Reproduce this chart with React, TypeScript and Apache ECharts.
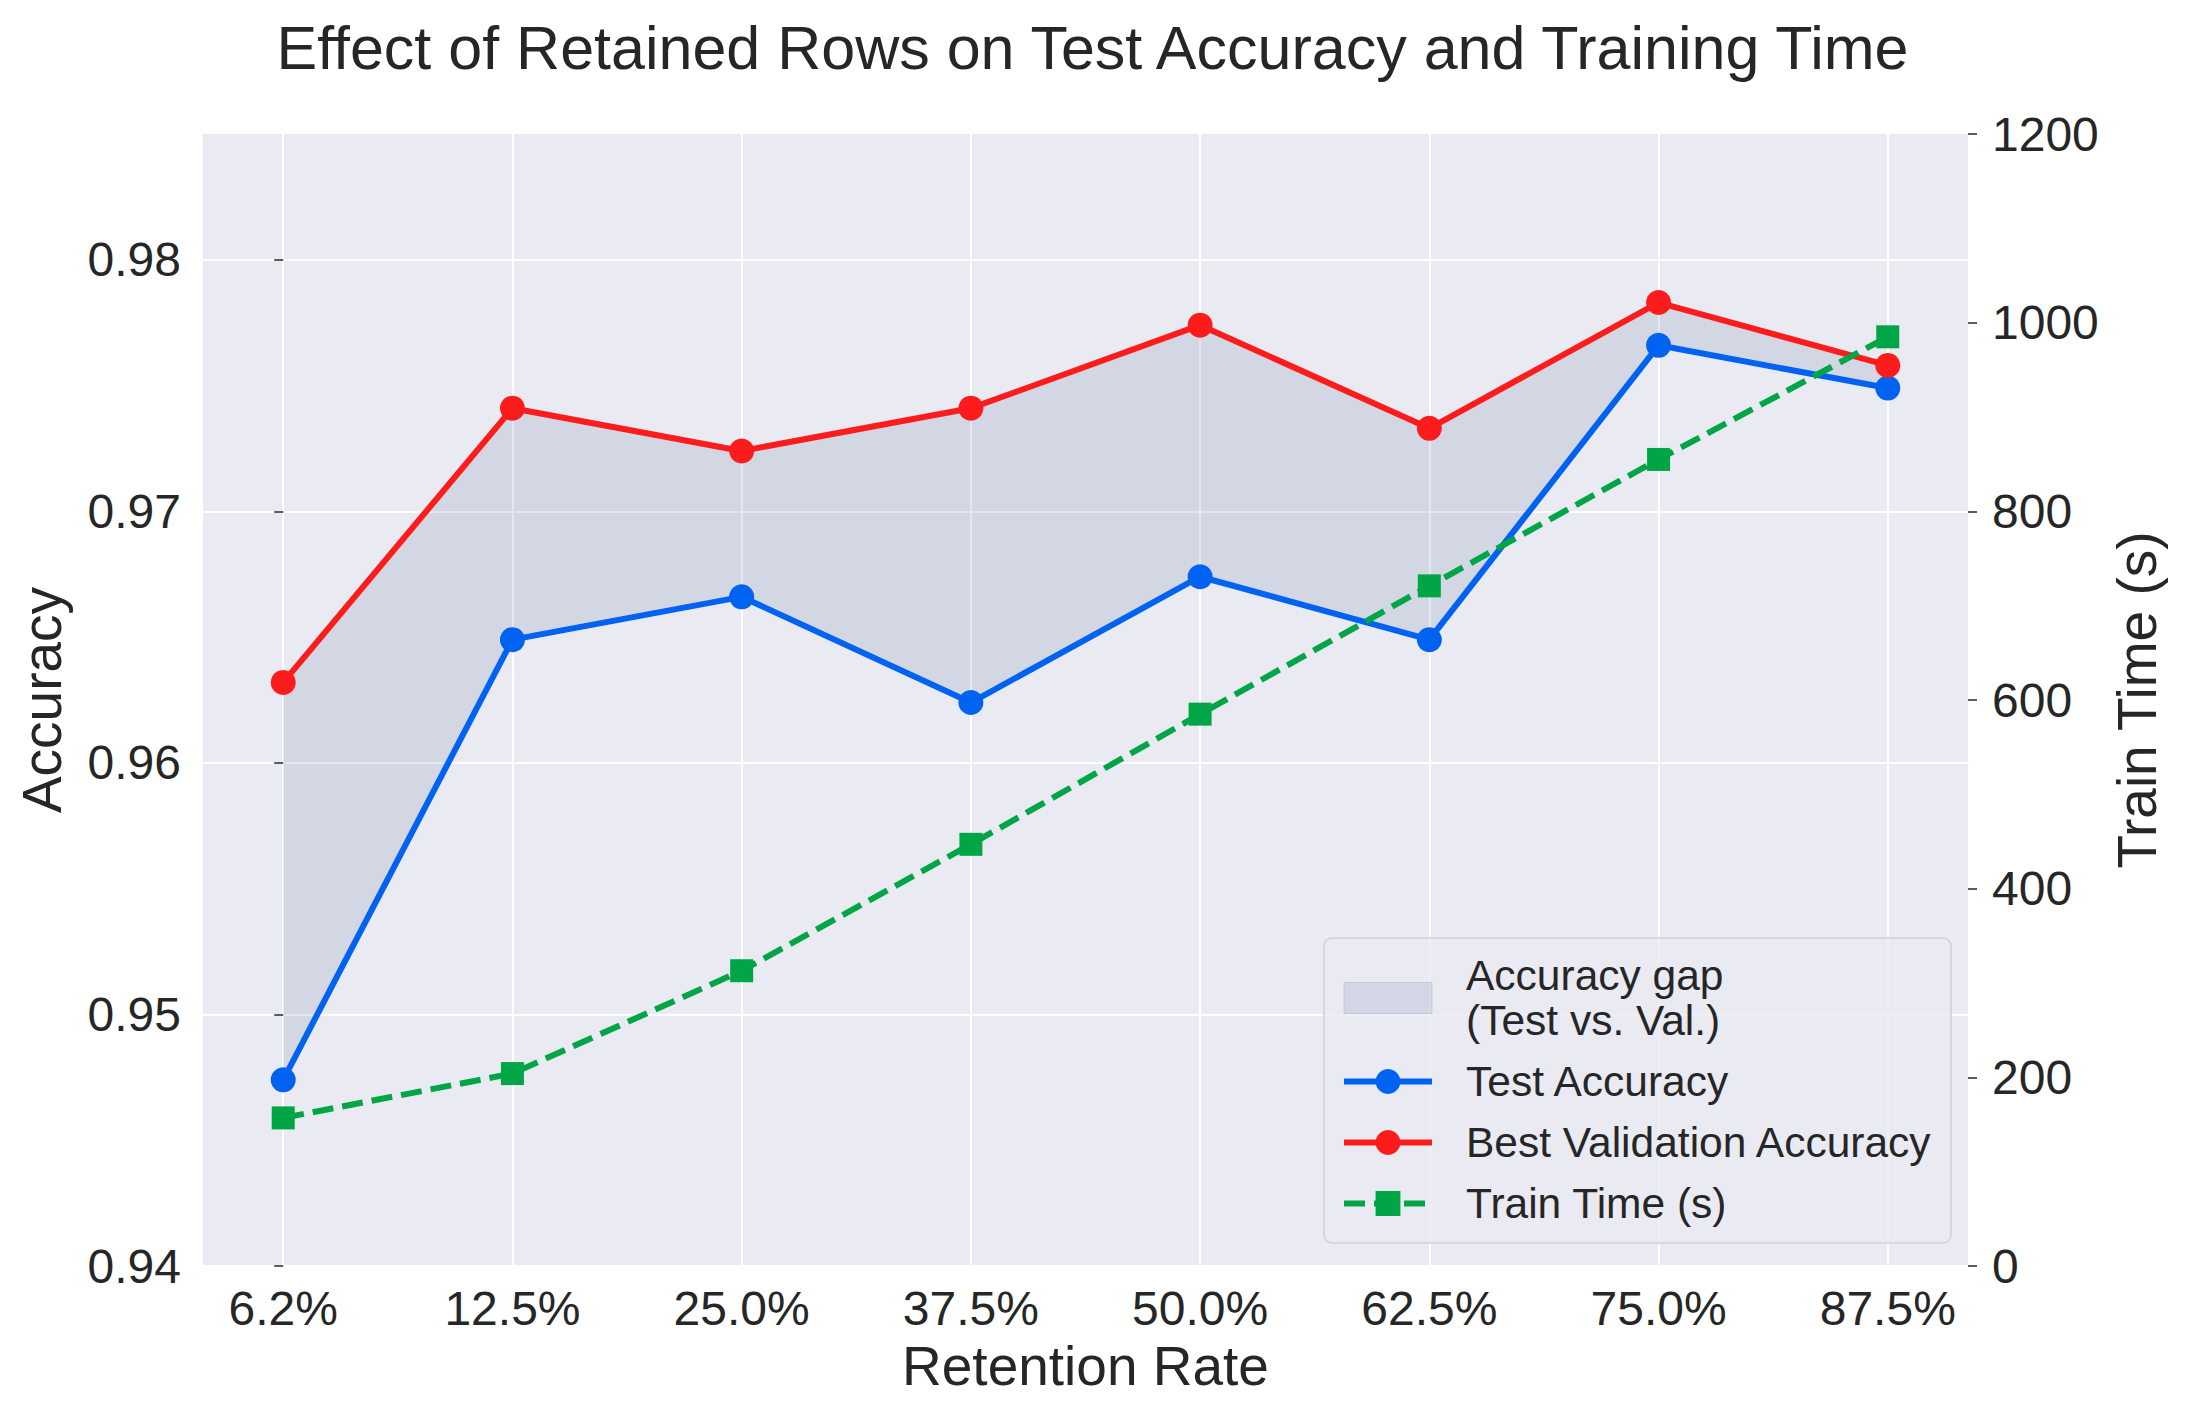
import React, { useEffect, useRef } from "react";
import * as echarts from "echarts";

const categories = ["6.2%", "12.5%", "25.0%", "37.5%", "50.0%", "62.5%", "75.0%", "87.5%"];
const testAcc = [0.9474, 0.9649, 0.9666, 0.9624, 0.9674, 0.9649, 0.9766, 0.9749];
const valAcc = [0.9632, 0.9741, 0.9724, 0.9741, 0.9774, 0.9733, 0.9783, 0.9758];
const trainTime = [157, 204, 313, 447, 585, 721, 855, 985];
const accTicks = [0.94, 0.95, 0.96, 0.97, 0.98];

const FONT = "'Liberation Sans', Arial, sans-serif";
const TXT = "#262626";
const BLUE = "#0062f0";
const RED = "#fd1c1c";
const GREEN = "#00a546";
const GAP = "rgba(150,165,192,0.27)";

export default function App() {
  const ref = useRef<HTMLDivElement>(null);
  useEffect(() => {
    document.body.style.margin = "0";
    const chart = echarts.init(ref.current!, null, { renderer: "svg" });
    const idx = categories.map((_, i) => i);
    const gapName = "Accuracy gap\n(Test vs. Val.)";
    chart.setOption({
      animation: false,
      backgroundColor: "#ffffff",
      textStyle: { fontFamily: FONT, color: TXT },
      title: {
        text: "Effect of Retained Rows on Test Accuracy and Training Time",
        left: "center",
        top: 12,
        padding: [5, 17, 5, 5],
        textStyle: { fontFamily: FONT, fontSize: 61, lineHeight: 61, fontWeight: "normal", color: TXT },
      },
      grid: {
        left: 203,
        right: 217,
        top: 134,
        bottom: 147,
        show: true,
        backgroundColor: "#eaeaf2",
        borderWidth: 0,
        containLabel: false,
      },
      legend: {
        orient: "vertical",
        left: 1324,
        top: 938,
        padding: [15, 18, 17, 17],
        itemWidth: 88,
        itemHeight: 31,
        itemGap: 16,
        backgroundColor: "rgba(234,234,242,0.8)",
        borderColor: "#cfcfd6",
        borderWidth: 1.5,
        borderRadius: 8,
        lineStyle: { width: 6 },
        textStyle: { fontFamily: FONT, fontSize: 42.5, lineHeight: 45, color: TXT, padding: [0, 0, 0, 29] },
        data: [
          { name: gapName, icon: "rect", itemStyle: { color: GAP, borderColor: "rgba(150,165,192,0.35)", borderWidth: 1 } },
          { name: "Test Accuracy" },
          { name: "Best Validation Accuracy" },
          { name: "Train Time (s)" },
        ],
      },
      xAxis: {
        type: "value",
        min: -0.35,
        max: 7.35,
        name: "Retention Rate",
        nameLocation: "middle",
        nameGap: 72,
        nameTextStyle: { fontFamily: FONT, fontSize: 55, lineHeight: 55, color: TXT },
        axisLine: { show: false },
        axisTick: { show: false, customValues: idx },
        axisLabel: {
          customValues: idx,
          formatter: (v: number) => categories[Math.round(v)],
          fontFamily: FONT,
          fontSize: 48,
          lineHeight: 48,
          color: TXT,
          margin: 18,
        },
        splitLine: { show: true, lineStyle: { color: "#ffffff", width: 2 } },
      },
      yAxis: [
        {
          type: "value",
          min: 0.94,
          max: 0.985,
          name: "Accuracy",
          nameLocation: "middle",
          nameGap: 134,
          nameTextStyle: { fontFamily: FONT, fontSize: 55, lineHeight: 55, color: TXT },
          axisLine: { show: false },
          axisTick: { show: true, length: 9, customValues: accTicks, lineStyle: { color: TXT, width: 1.5 } },
          axisLabel: {
            customValues: accTicks,
            formatter: (v: number) => v.toFixed(2),
            fontFamily: FONT,
            fontSize: 48,
            color: TXT,
            margin: 22,
          },
          splitLine: { show: true, lineStyle: { color: "#ffffff", width: 2 } },
        },
        {
          type: "value",
          min: 0,
          max: 1200,
          interval: 200,
          position: "right",
          name: "Train Time (s)",
          nameLocation: "middle",
          nameGap: 113,
          nameTextStyle: { fontFamily: FONT, fontSize: 55, lineHeight: 55, color: TXT },
          axisLine: { show: false },
          axisTick: { show: true, length: 9, lineStyle: { color: TXT, width: 1.5 } },
          axisLabel: { fontFamily: FONT, fontSize: 48, color: TXT, margin: 24, formatter: (v: number) => String(v) },
          splitLine: { show: false },
        },
      ],
      series: [
        {
          name: gapName,
          type: "custom",
          silent: true,
          itemStyle: { color: GAP },
          data: idx.map((i) => [i, testAcc[i], valAcc[i]]),
          encode: { x: 0, y: [1, 2] },
          renderItem: (params: any, api: any) => {
            if (params.dataIndex !== 0) return null;
            const upper = idx.map((i) => api.coord([i, valAcc[i]]));
            const lower = idx.map((i) => api.coord([i, testAcc[i]])).reverse();
            return {
              type: "polygon",
              shape: { points: upper.concat(lower) },
              style: { fill: GAP, stroke: "none" },
            };
          },
        },
        {
          name: "Test Accuracy",
          type: "line",
          data: idx.map((i) => [i, testAcc[i]]),
          symbol: "circle",
          symbolSize: 25,
          itemStyle: { color: BLUE },
          lineStyle: { color: BLUE, width: 6 },
        },
        {
          name: "Best Validation Accuracy",
          type: "line",
          data: idx.map((i) => [i, valAcc[i]]),
          symbol: "circle",
          symbolSize: 25,
          itemStyle: { color: RED },
          lineStyle: { color: RED, width: 6 },
        },
        {
          name: "Train Time (s)",
          type: "line",
          yAxisIndex: 1,
          data: idx.map((i) => [i, trainTime[i]]),
          symbol: "rect",
          symbolSize: 23,
          itemStyle: { color: GREEN },
          lineStyle: { color: GREEN, width: 6, type: [21, 9] },
        },
      ],
    });
    return () => chart.dispose();
  }, []);
  return <div ref={ref} style={{ width: 2185, height: 1413 }} />;
}
